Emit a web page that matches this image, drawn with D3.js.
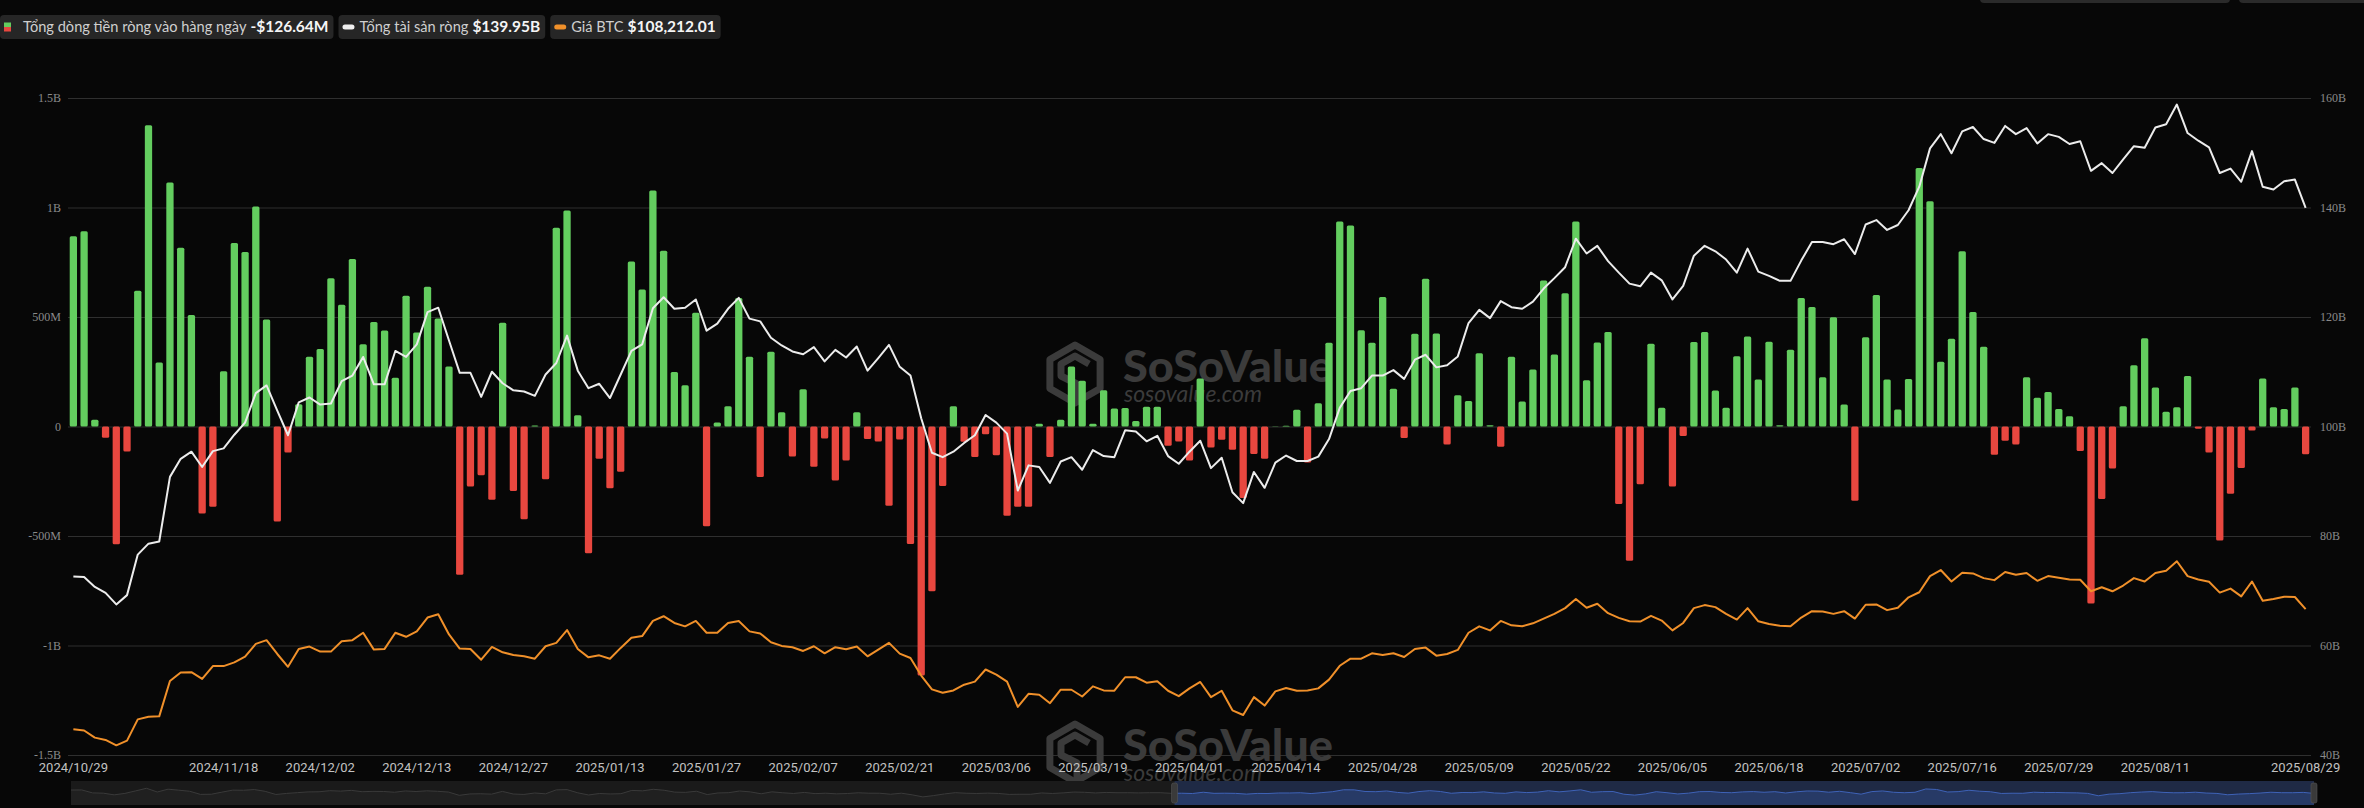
<!DOCTYPE html>
<html><head><meta charset="utf-8">
<script src="https://cdn.jsdelivr.net/npm/d3@7"></script>
<style>html,body{margin:0;padding:0;background:#070707;overflow:hidden}</style>
</head><body>
<svg id="chart" width="2364" height="808"></svg>
<script>
// ---------- DATA ----------
const dates = [
"2024/10/29","2024/10/30","2024/10/31",
"2024/11/01","2024/11/04","2024/11/05","2024/11/06","2024/11/07","2024/11/08","2024/11/11","2024/11/12","2024/11/13","2024/11/14","2024/11/15","2024/11/18","2024/11/19","2024/11/20","2024/11/21","2024/11/22","2024/11/25","2024/11/26","2024/11/27","2024/11/29",
"2024/12/02","2024/12/03","2024/12/04","2024/12/05","2024/12/06","2024/12/09","2024/12/10","2024/12/11","2024/12/12","2024/12/13","2024/12/16","2024/12/17","2024/12/18","2024/12/19","2024/12/20","2024/12/23","2024/12/24","2024/12/26","2024/12/27","2024/12/30","2024/12/31",
"2025/01/02","2025/01/03","2025/01/06","2025/01/07","2025/01/08","2025/01/10","2025/01/13","2025/01/14","2025/01/15","2025/01/16","2025/01/17","2025/01/21","2025/01/22","2025/01/23","2025/01/24","2025/01/27","2025/01/28","2025/01/29","2025/01/30","2025/01/31",
"2025/02/03","2025/02/04","2025/02/05","2025/02/06","2025/02/07","2025/02/10","2025/02/11","2025/02/12","2025/02/13","2025/02/14","2025/02/18","2025/02/19","2025/02/20","2025/02/21","2025/02/24","2025/02/25","2025/02/26","2025/02/27","2025/02/28",
"2025/03/03","2025/03/04","2025/03/05","2025/03/06","2025/03/07","2025/03/10","2025/03/11","2025/03/12","2025/03/13","2025/03/14","2025/03/17","2025/03/18","2025/03/19","2025/03/20","2025/03/21","2025/03/24","2025/03/25","2025/03/26","2025/03/27","2025/03/28","2025/03/31",
"2025/04/01","2025/04/02","2025/04/03","2025/04/04","2025/04/07","2025/04/08","2025/04/09","2025/04/10","2025/04/11","2025/04/14","2025/04/15","2025/04/16","2025/04/17","2025/04/21","2025/04/22","2025/04/23","2025/04/24","2025/04/25","2025/04/28","2025/04/29","2025/04/30",
"2025/05/01","2025/05/02","2025/05/05","2025/05/06","2025/05/07","2025/05/08","2025/05/09","2025/05/12","2025/05/13","2025/05/14","2025/05/15","2025/05/16","2025/05/19","2025/05/20","2025/05/21","2025/05/22","2025/05/23","2025/05/27","2025/05/28","2025/05/29","2025/05/30",
"2025/06/02","2025/06/03","2025/06/04","2025/06/05","2025/06/06","2025/06/09","2025/06/10","2025/06/11","2025/06/12","2025/06/13","2025/06/16","2025/06/17","2025/06/18","2025/06/20","2025/06/23","2025/06/24","2025/06/25","2025/06/26","2025/06/27","2025/06/30",
"2025/07/01","2025/07/02","2025/07/03","2025/07/07","2025/07/08","2025/07/09","2025/07/10","2025/07/11","2025/07/14","2025/07/15","2025/07/16","2025/07/17","2025/07/18","2025/07/21","2025/07/22","2025/07/23","2025/07/24","2025/07/25","2025/07/28","2025/07/29","2025/07/30","2025/07/31",
"2025/08/01","2025/08/04","2025/08/05","2025/08/06","2025/08/07","2025/08/08","2025/08/11","2025/08/12","2025/08/13","2025/08/14","2025/08/15","2025/08/18","2025/08/19","2025/08/20","2025/08/21","2025/08/22","2025/08/25","2025/08/26","2025/08/27","2025/08/28","2025/08/29"
];

// Daily total net inflow, millions USD
const netInflowM = [
869, 892, 31, -51, -538, -114, 620, 1376, 292, 1114,
816, 509, -397, -366, 252, 838, 797, 1004, 489, -434,
-119, 102, 319, 354, 677, 556, 765, 376, 477, 438,
223, 597, 429, 638, 493, 274, -677, -274, -223, -335,
474, -294, -423, 4, -241, 908, 986, 51, -579, -147,
-282, -207, 753, 626, 1078, 802, 249, 188, 519, -456,
18, 92, 587, 319, -231, 341, 65, -137, 170, -184,
-55, -247, -155, 65, -57, -68, -362, -59, -536, -1137,
-752, -272, 92, -70, -139, -35, -131, -407, -366, -366,
12, -139, 31, 274, 209, 12, 166, 82, 84, 25,
90, 90, -88, -68, -155, 219, -96, -61, -106, -327,
-125, -147, 1, 3, 76, -164, 106, 382, 936, 918,
440, 382, 591, 172, -53, 423, 675, 425, -82, 143,
117, 335, 6, -92, 319, 114, 260, 667, 329, 609,
936, 211, 384, 432, -354, -613, -264, 378, 86, -274,
-43, 386, 431, 164, 86, 321, 411, 215, 387, 6,
350, 587, 546, 225, 499, 100, -339, 407, 601, 215,
78, 217, 1180, 1029, 296, 401, 800, 523, 364, -129,
-65, -82, 225, 131, 157, 80, 47, -112, -808, -331,
-192, 92, 280, 403, 178, 67, 88, 231, -10, -119,
-521, -307, -190, -18, 219, 88, 80, 178, -126.64
];

// Total net assets, billions USD
const netAssetsB = [
72.6, 72.5, 70.7, 69.6, 67.5, 69.2, 76.6, 78.6, 79.0, 90.8,
94.1, 95.4, 92.6, 95.5, 96.0, 98.5, 100.7, 106.1, 107.5, 102.9,
98.4, 104.4, 105.3, 104.0, 104.2, 108.3, 109.3, 112.7, 107.7, 107.7,
113.8, 112.7, 115.0, 120.9, 121.7, 115.7, 109.8, 109.8, 105.4, 110.0,
107.9, 106.6, 106.4, 105.6, 109.5, 111.6, 116.6, 110.2, 107.0, 107.8,
105.2, 109.5, 113.8, 115.0, 121.6, 123.6, 121.5, 121.7, 123.2, 117.5,
118.8, 121.5, 123.5, 119.7, 119.2, 116.2, 114.8, 113.7, 113.2, 114.5,
111.9, 114.0, 112.6, 114.6, 110.2, 112.5, 114.9, 110.9, 109.3, 101.5,
95.2, 94.4, 95.4, 97.0, 98.4, 102.1, 100.7, 98.7, 88.3, 92.9,
92.6, 89.7, 93.6, 94.4, 92.1, 95.7, 94.6, 94.4, 99.3, 99.1,
97.3, 98.3, 94.6, 93.2, 95.4, 97.4, 92.4, 94.3, 88.0, 86.0,
91.7, 88.8, 93.4, 94.7, 93.7, 93.7, 94.5, 97.7, 103.4, 106.5,
107.0, 109.3, 109.3, 110.3, 108.7, 112.2, 113.1, 110.8, 111.2, 112.8,
118.9, 121.3, 119.8, 122.9, 121.8, 121.5, 122.8, 125.2, 127.1, 129.1,
134.3, 131.6, 133.0, 130.2, 128.1, 126.1, 125.6, 128.1, 126.7, 123.2,
125.7, 131.2, 133.0, 132.0, 130.5, 128.1, 132.5, 128.3, 127.5, 126.6,
126.6, 130.3, 133.7, 133.7, 133.3, 134.2, 131.5, 136.9, 137.7, 135.9,
136.8, 139.5, 143.8, 150.8, 153.4, 149.9, 153.9, 154.7, 152.5, 151.8,
154.9, 153.4, 154.5, 151.7, 153.4, 152.9, 151.6, 152.1, 146.7, 148.1,
146.3, 148.8, 151.2, 150.9, 154.6, 155.2, 158.8, 153.6, 152.2, 151.0,
146.3, 147.1, 144.7, 150.3, 143.8, 143.3, 144.8, 145.1, 139.95
];

// BTC price, USD
const btcPrice = [
72600, 72200, 70100, 69400, 67800, 69200, 75500, 76300, 76400, 86900,
89400, 89500, 87500, 91300, 91300, 92400, 94100, 97900, 99000, 94900,
91100, 96400, 97100, 95600, 95600, 98700, 99000, 101200, 96200, 96400,
101200, 100000, 101600, 105700, 106700, 100700, 96500, 96400, 93200, 97000,
95400, 94600, 94200, 93500, 97200, 98200, 102000, 96400, 93900, 94500,
93500, 96700, 99700, 100200, 104700, 106100, 104100, 103100, 104700, 101200,
101200, 104100, 104700, 101600, 101000, 98400, 97300, 96900, 95800, 97200,
95100, 96900, 96300, 97100, 94200, 96200, 98200, 95000, 93700, 88500,
84400, 83400, 84100, 85800, 86700, 90300, 88800, 86700, 79200, 83100,
82800, 80300, 84300, 84300, 82300, 85300, 84100, 84000, 88000, 88000,
86400, 86800, 84000, 82400, 84700, 86600, 82100, 84000, 78200, 76800,
82100, 79600, 83800, 84800, 84000, 84100, 84700, 87300, 91400, 93500,
93500, 95100, 94600, 95100, 94000, 96400, 96800, 94400, 94900, 96100,
101200, 103100, 101900, 104700, 103400, 103100, 104000, 105400, 106800, 108500,
111200, 108600, 109800, 107000, 105600, 104600, 104500, 106200, 104800, 101900,
104100, 108500, 109400, 108800, 106800, 105100, 108500, 104600, 103800, 103300,
103100, 105700, 107600, 107500, 106800, 107600, 105400, 109500, 109600, 107900,
108600, 111700, 113200, 118000, 119800, 116400, 119000, 118800, 117400, 116800,
119200, 118400, 118900, 116600, 118000, 117500, 117000, 116900, 113500, 114700,
113500, 115200, 117400, 116400, 118900, 119600, 122400, 118000, 117000, 116300,
113100, 114300, 112000, 116400, 110700, 111200, 111900, 111800, 108212.01
];

const xTickLabels = ["2024/10/29","2024/11/18","2024/12/02","2024/12/13","2024/12/27","2025/01/13","2025/01/27","2025/02/07","2025/02/21","2025/03/06","2025/03/19","2025/04/01","2025/04/14","2025/04/28","2025/05/09","2025/05/22","2025/06/05","2025/06/18","2025/07/02","2025/07/16","2025/07/29","2025/08/11","2025/08/29"];
const leftTicks = [-1.5e9, -1e9, -5e8, 0, 5e8, 1e9, 1.5e9];
const leftTickLabels = ["-1.5B","-1B","-500M","0","500M","1B","1.5B"];
const rightTicks = [40, 60, 80, 100, 120, 140, 160];
const legendLabels = ["Tổng dòng tiền ròng vào hàng ngày", "Tổng tài sản ròng", "Giá BTC"];
const legendValues = ["-$126.64M", "$139.95B", "$108,212.01"];
const zoomStartPct = 49.2; // slider selection start (%)

// ---------- LAYOUT ----------
const L = 68, R = 2311, T = 98, B = 755;
const GREEN = "#63cd5f", RED = "#e8473f", WHITE = "#ececec", ORANGE = "#f0902a";
const svg = d3.select("#chart");
svg.append("rect").attr("width", 2364).attr("height", 808).attr("fill", "#070707");

const x = d3.scaleBand().domain(dates).range([L, R]).paddingInner(0.32).paddingOuter(0.16);
const cx = d => x(d) + x.bandwidth() / 2;
const yL = d3.scaleLinear().domain([-1.5e9, 1.5e9]).range([B, T]);
const yR = d3.scaleLinear().domain([40, 160]).range([B, T]);
const yB = d3.scaleLinear().domain([40 * 1623.6, 160 * 1623.6]).range([B, T]);

// gridlines
const grid = svg.append("g").attr("transform", `translate(${L},0)`)
  .call(d3.axisLeft(yL).tickValues(leftTicks).tickSize(-(R - L)).tickFormat(""));
grid.select(".domain").remove();
grid.selectAll("line").attr("stroke", "#2f2f2f").attr("stroke-width", 1);

// watermarks
function watermark(dy) {
  const g = svg.append("g").attr("transform", `translate(0,${dy})`).attr("fill", "#3b3b3b");
  const hx = 1075, hy = 374, r = 29;
  const hex = d3.range(6).map(k => {
    const a = Math.PI / 3 * k - Math.PI / 2;
    return [hx + r * Math.cos(a), hy + r * Math.sin(a)];
  });
  g.append("path").attr("d", "M" + hex.join("L") + "Z").attr("fill", "none")
    .attr("stroke", "#3b3b3b").attr("stroke-width", 7).attr("stroke-linejoin", "round");
  g.append("path").attr("d", `M${hx+14},${hy-10} L${hx},${hy-18} L${hx-14},${hy-10} L${hx-14},${hy+2} L${hx+2},${hy+10} L${hx+2},${hy+26}`)
    .attr("fill", "none").attr("stroke", "#3b3b3b").attr("stroke-width", 7).attr("stroke-linejoin", "round");
  g.append("text").attr("x", 1123).attr("y", 382).attr("font-family", "Lato").attr("font-weight", 900)
    .attr("font-size", 43).attr("textLength", 210).attr("lengthAdjust", "spacingAndGlyphs").text("SoSoValue");
  g.append("text").attr("x", 1124).attr("y", 402).attr("font-family", "Lato").attr("font-style", "italic")
    .attr("font-size", 24).attr("textLength", 138).attr("lengthAdjust", "spacingAndGlyphs").text("sosovalue.com");
}
watermark(0);
watermark(379);

// bars
svg.append("g").selectAll("rect").data(dates).join("rect")
  .attr("x", d => x(d))
  .attr("width", x.bandwidth())
  .attr("y", (d, i) => Math.min(yL(netInflowM[i] * 1e6), yL(0)))
  .attr("height", (d, i) => Math.abs(yL(netInflowM[i] * 1e6) - yL(0)))
  .attr("rx", 1.5)
  .attr("fill", (d, i) => netInflowM[i] >= 0 ? GREEN : RED);

// lines
svg.append("path").datum(dates)
  .attr("d", d3.line().x(cx).y((d, i) => yB(btcPrice[i])))
  .attr("fill", "none").attr("stroke", ORANGE).attr("stroke-width", 2).attr("stroke-linejoin", "round");
svg.append("path").datum(dates)
  .attr("d", d3.line().x(cx).y((d, i) => yR(netAssetsB[i])))
  .attr("fill", "none").attr("stroke", WHITE).attr("stroke-width", 2).attr("stroke-linejoin", "round");

// axes
const axL = svg.append("g").attr("transform", `translate(${L},0)`)
  .call(d3.axisLeft(yL).tickValues(leftTicks).tickSize(0).tickPadding(7)
    .tickFormat(d => leftTickLabels[leftTicks.indexOf(d)]));
const axR = svg.append("g").attr("transform", `translate(${R},0)`)
  .call(d3.axisRight(yR).tickValues(rightTicks).tickSize(0).tickPadding(9).tickFormat(d => d + "B"));
[axL, axR].forEach(a => {
  a.select(".domain").remove();
  a.selectAll("text").attr("font-family", "Liberation Serif").attr("font-size", 12).attr("fill", "#8a8a8a");
});
const axB = svg.append("g").attr("transform", `translate(0,${B})`)
  .call(d3.axisBottom(x).tickValues(xTickLabels).tickSize(0).tickPadding(8));
axB.select(".domain").remove();
axB.selectAll("text").attr("font-family", "Roboto").attr("font-size", 13).attr("fill", "#c2c2c2");

// data zoom slider
const sx = d3.scalePoint().domain(dates).range([71, 2314]);
const sy = d3.scaleLinear().domain([-3500, 3500]).range([805, 781]);
const selX0 = 71 + (2314 - 71) * zoomStartPct / 100;
svg.append("rect").attr("x", 71).attr("y", 781).attr("width", 2243).attr("height", 24).attr("fill", "#1a1a1a");
svg.append("rect").attr("x", selX0).attr("y", 781).attr("width", 2314 - selX0).attr("height", 24).attr("fill", "#1f2a45");
const defs = svg.append("defs");
defs.append("clipPath").attr("id", "cLeft").append("rect").attr("x", 71).attr("y", 775).attr("width", selX0 - 71).attr("height", 40);
defs.append("clipPath").attr("id", "cRight").append("rect").attr("x", selX0).attr("y", 775).attr("width", 2314 - selX0).attr("height", 40);
const sLine = d3.line().x(d => sx(d)).y((d, i) => sy(netInflowM[i]));
const sArea = d3.area().x(d => sx(d)).y0(805).y1((d, i) => sy(netInflowM[i]));
svg.append("path").datum(dates).attr("d", sArea).attr("fill", "#202020").attr("clip-path", "url(#cLeft)");
svg.append("path").datum(dates).attr("d", sLine).attr("fill", "none").attr("stroke", "#3a3a3a").attr("stroke-width", 1).attr("clip-path", "url(#cLeft)");
svg.append("path").datum(dates).attr("d", sArea).attr("fill", "#273a66").attr("clip-path", "url(#cRight)");
svg.append("path").datum(dates).attr("d", sLine).attr("fill", "none").attr("stroke", "#3f63b8").attr("stroke-width", 1).attr("clip-path", "url(#cRight)");
[selX0, 2314].forEach(hx => {
  svg.append("rect").attr("x", hx - 3).attr("y", 783).attr("width", 6).attr("height", 20).attr("rx", 2)
    .attr("fill", "#3a3a3a").attr("stroke", "#555").attr("stroke-width", 0.6);
});

// top-right partial boxes
svg.append("rect").attr("x", 1980).attr("y", -10).attr("width", 250).attr("height", 13).attr("rx", 4).attr("fill", "#2a2a2a");
svg.append("rect").attr("x", 2239).attr("y", -10).attr("width", 140).attr("height", 13).attr("rx", 4).attr("fill", "#2a2a2a");

// legend
const lg = svg.append("g");
let bx = 0;
legendLabels.forEach((lab, i) => {
  const g = lg.append("g");
  const box = g.append("rect").attr("x", bx).attr("y", 15).attr("height", 24).attr("rx", 4).attr("fill", "#262626");
  let tx;
  if (i === 0) {
    g.append("rect").attr("x", bx + 4).attr("y", 22.5).attr("width", 7).attr("height", 4.5).attr("fill", GREEN);
    g.append("rect").attr("x", bx + 4).attr("y", 27).attr("width", 7).attr("height", 4.5).attr("fill", RED);
    tx = bx + 23;
  } else {
    g.append("rect").attr("x", bx + 4).attr("y", 24.5).attr("width", 12).attr("height", 5).attr("rx", 2.5)
      .attr("fill", i === 1 ? "#f0f0f0" : ORANGE);
    tx = bx + 21;
  }
  const t = g.append("text").attr("x", tx).attr("y", 32).attr("font-family", "Lato");
  t.append("tspan").attr("font-size", 14.6).attr("fill", "#cfcfcf").text(lab);
  t.append("tspan").attr("dx", 4).attr("font-size", 15.5).attr("font-weight", 700).attr("fill", "#f5f5f5").text(legendValues[i]);
  const bb = t.node().getBBox();
  const w = bb.x + bb.width + 5 - bx;
  box.attr("width", w);
  bx += w + 5;
});
</script>
</body></html>
